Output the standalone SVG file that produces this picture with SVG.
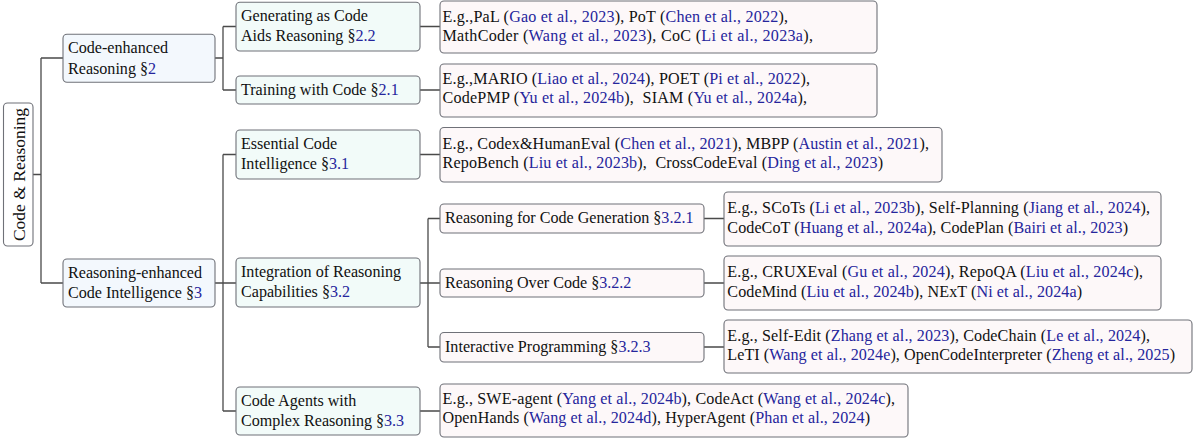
<svg xmlns="http://www.w3.org/2000/svg" width="1194" height="439" viewBox="0 0 1194 439">
<style>
text{font-family:"Liberation Serif","Times New Roman",serif;font-size:16.1px;fill:#111;white-space:pre}
.c{fill:#25259c}
.box{stroke:#6f7178;stroke-width:1.1}
.l1{fill:#f3f8fd}
.l2{fill:#f2fbf9}
.l3{fill:#fdf8f9}
.root{fill:#ffffff}
#connectors path{fill:none;stroke:#4a4a4a;stroke-width:1.3}
</style>
<rect width="1194" height="439" fill="#ffffff"/>
<g id="connectors">
<path d="M33,174.5H41M41,58V283M41,58H63M41,283H63"/>
<path d="M215,58H223M223,26.5V90M223,26.5H236M223,90H236"/>
<path d="M215,283H223M223,154.5V411M223,154.5H236M223,283H236M223,411H236"/>
<path d="M420,26.5H440M420,90H440M420,154.5H440M420,411H440"/>
<path d="M420,283H428M428,218.5V347M428,218.5H440M428,283H440M428,347H440"/>
<path d="M704,218.5H724M704,283H724M704,347H724"/>
</g>
<g id="root">
<rect class="box root" x="3.5" y="103" width="29.5" height="143" rx="4"/>
<text transform="translate(24.5,174.5) rotate(-90)" text-anchor="middle" style="font-size:17.5px">Code &amp; Reasoning</text>
</g>
<g id="code-enhanced">
<rect class="box l1" x="63" y="34.3" width="152" height="48" rx="4"/>
<text x="68" y="53">Code-enhanced</text>
<text x="68" y="73.5">Reasoning §<tspan class="c">2</tspan></text>
</g>
<g id="reasoning-enhanced">
<rect class="box l1" x="63" y="259" width="152" height="48" rx="4"/>
<text x="68" y="277.5">Reasoning-enhanced</text>
<text x="68" y="297.8">Code Intelligence §<tspan class="c">3</tspan></text>
</g>
<g id="generating">
<rect class="box l2" x="236" y="2.3" width="184" height="48.7" rx="4"/>
<text x="241" y="20.5">Generating as Code</text>
<text x="241" y="40.8">Aids Reasoning §<tspan class="c">2.2</tspan></text>
</g>
<g id="training">
<rect class="box l2" x="236" y="76" width="184" height="28" rx="4"/>
<text x="241" y="95">Training with Code §<tspan class="c">2.1</tspan></text>
</g>
<g id="essential">
<rect class="box l2" x="236" y="130" width="184" height="49" rx="4"/>
<text x="241" y="149.3">Essential Code</text>
<text x="241" y="169.3">Intelligence §<tspan class="c">3.1</tspan></text>
</g>
<g id="integration">
<rect class="box l2" x="236" y="258" width="184" height="49" rx="4"/>
<text x="241" y="277">Integration of Reasoning</text>
<text x="241" y="297.3">Capabilities §<tspan class="c">3.2</tspan></text>
</g>
<g id="agents">
<rect class="box l2" x="236" y="387" width="184" height="48" rx="4"/>
<text x="241" y="405.5">Code Agents with</text>
<text x="241" y="425.8">Complex Reasoning §<tspan class="c">3.3</tspan></text>
</g>
<g id="rcg">
<rect class="box l3" x="440" y="204" width="264" height="29" rx="4"/>
<text x="445" y="223.3">Reasoning for Code Generation §<tspan class="c">3.2.1</tspan></text>
</g>
<g id="roc">
<rect class="box l3" x="440" y="269" width="264" height="28" rx="4"/>
<text x="445" y="288">Reasoning Over Code §<tspan class="c">3.2.2</tspan></text>
</g>
<g id="ip">
<rect class="box l3" x="440" y="332.5" width="264" height="29.5" rx="4"/>
<text x="445" y="352">Interactive Programming §<tspan class="c">3.2.3</tspan></text>
</g>
<g id="leaf-generating">
<rect class="box l3" x="440" y="1" width="437" height="52" rx="4"/>
<text x="442.5" y="21.5" textLength="345.5">E.g.,PaL (<tspan class="c">Gao et al., 2023</tspan>), PoT (<tspan class="c">Chen et al., 2022</tspan>),</text>
<text x="442.5" y="40.8" textLength="370.5">MathCoder (<tspan class="c">Wang et al., 2023</tspan>), CoC (<tspan class="c">Li et al., 2023a</tspan>),</text>
</g>
<g id="leaf-training">
<rect class="box l3" x="440" y="64" width="437" height="53" rx="4"/>
<text x="442.5" y="83.5" textLength="367.5">E.g.,MARIO (<tspan class="c">Liao et al., 2024</tspan>), POET (<tspan class="c">Pi et al., 2022</tspan>),</text>
<text x="442.5" y="102.5" textLength="364.5">CodePMP (<tspan class="c">Yu et al., 2024b</tspan>),  SIAM (<tspan class="c">Yu et al., 2024a</tspan>),</text>
</g>
<g id="leaf-essential">
<rect class="box l3" x="440" y="127.5" width="502" height="54.5" rx="4"/>
<text x="442.5" y="149" textLength="486.5">E.g., Codex&amp;HumanEval (<tspan class="c">Chen et al., 2021</tspan>), MBPP (<tspan class="c">Austin et al., 2021</tspan>),</text>
<text x="442.5" y="168" textLength="440.5">RepoBench (<tspan class="c">Liu et al., 2023b</tspan>),  CrossCodeEval (<tspan class="c">Ding et al., 2023</tspan>)</text>
</g>
<g id="leaf-rcg">
<rect class="box l3" x="724" y="192" width="437" height="54" rx="4"/>
<text x="727.3" y="213.3" textLength="422.7">E.g., SCoTs (<tspan class="c">Li et al., 2023b</tspan>), Self-Planning (<tspan class="c">Jiang et al., 2024</tspan>),</text>
<text x="727.3" y="232.5" textLength="400.7">CodeCoT (<tspan class="c">Huang et al., 2024a</tspan>), CodePlan (<tspan class="c">Bairi et al., 2023</tspan>)</text>
</g>
<g id="leaf-roc">
<rect class="box l3" x="724" y="256" width="437" height="54" rx="4"/>
<text x="727.3" y="277" textLength="415.7">E.g., CRUXEval (<tspan class="c">Gu et al., 2024</tspan>), RepoQA (<tspan class="c">Liu et al., 2024c</tspan>),</text>
<text x="727.3" y="296.5" textLength="354.7">CodeMind (<tspan class="c">Liu et al., 2024b</tspan>), NExT (<tspan class="c">Ni et al., 2024a</tspan>)</text>
</g>
<g id="leaf-ip">
<rect class="box l3" x="724" y="320" width="468" height="53" rx="4"/>
<text x="727.3" y="341" textLength="422.7">E.g., Self-Edit (<tspan class="c">Zhang et al., 2023</tspan>), CodeChain (<tspan class="c">Le et al., 2024</tspan>),</text>
<text x="727.3" y="360" textLength="447.7">LeTI (<tspan class="c">Wang et al., 2024e</tspan>), OpenCodeInterpreter (<tspan class="c">Zheng et al., 2025</tspan>)</text>
</g>
<g id="leaf-agents">
<rect class="box l3" x="440" y="384" width="468" height="53" rx="4"/>
<text x="442.5" y="404" textLength="452.5">E.g., SWE-agent (<tspan class="c">Yang et al., 2024b</tspan>), CodeAct (<tspan class="c">Wang et al., 2024c</tspan>),</text>
<text x="442.5" y="423.3" textLength="427.5">OpenHands (<tspan class="c">Wang et al., 2024d</tspan>), HyperAgent (<tspan class="c">Phan et al., 2024</tspan>)</text>
</g>
</svg>
